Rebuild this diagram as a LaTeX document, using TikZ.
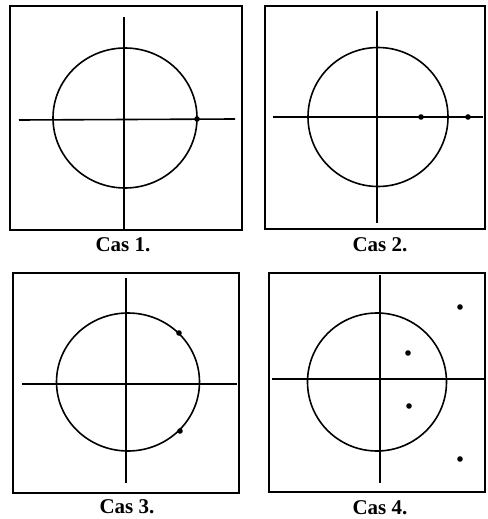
\documentclass[tikz,border=0pt]{standalone}
\usepackage{fontspec}
\setmainfont{Liberation Serif}

\begin{document}
\begin{tikzpicture}[x=0.5pt,y=-0.5pt,
  frame/.style={line width=0.9pt},
  axis/.style={line width=0.8pt},
  unit/.style={line width=0.8pt},
  root/.style={fill,circle,inner sep=0pt,minimum size=2.8pt},
  cas/.style={font=\fontsize{10.5}{12}\selectfont\bfseries}]
  \useasboundingbox (0,0) rectangle (487,519);
  % Cas 1
  \begin{scope}
    \draw[frame] (10,6) rectangle (242,230);
    \draw[axis] (19,120)--(235,119);
    \draw[axis] (124,17)--(124,230);
    \draw[unit] (125,118) ellipse[x radius=72,y radius=70];
    \node[root] (r11) at (197,119) {};
    \node[cas] (cas1) at (123,245) {Cas 1.};
  \end{scope}
  % Cas 2
  \begin{scope}
    \draw[frame] (265,6) rectangle (485,229);
    \draw[axis] (273,117)--(483,117);
    \draw[axis] (377,11)--(377,223);
    \draw[unit] (378,117) ellipse[x radius=70,y radius=69.5];
    \node[root] (r21) at (421,117) {};
    \node[root] (r22) at (468,117) {};
    \node[cas] (cas2) at (380,245) {Cas 2.};
  \end{scope}
  % Cas 3
  \begin{scope}
    \draw[frame] (13,273) rectangle (239,493);
    \draw[axis] (22,384)--(237,384);
    \draw[axis] (126,278)--(126,483);
    \draw[unit] (128,382) ellipse[x radius=71.5,y radius=69];
    \node[root] (r31) at (179,333) {};
    \node[root] (r32) at (180,431) {};
    \node[cas] (cas3) at (127,507) {Cas 3.};
  \end{scope}
  % Cas 4
  \begin{scope}
    \draw[frame] (269,273) rectangle (485,492);
    \draw[axis] (272,379)--(484,379);
    \draw[axis] (380,275)--(380,483);
    \draw[unit] (377,382) ellipse[x radius=69.5,y radius=69];
    \foreach \n/\p in {1/{(460,307)},2/{(408,353)},3/{(409,406)},4/{(460,459)}}
      \node[root] (r4\n) at \p {};
    \node[cas] (cas4) at (380,508) {Cas 4.};
  \end{scope}
\end{tikzpicture}
\end{document}
